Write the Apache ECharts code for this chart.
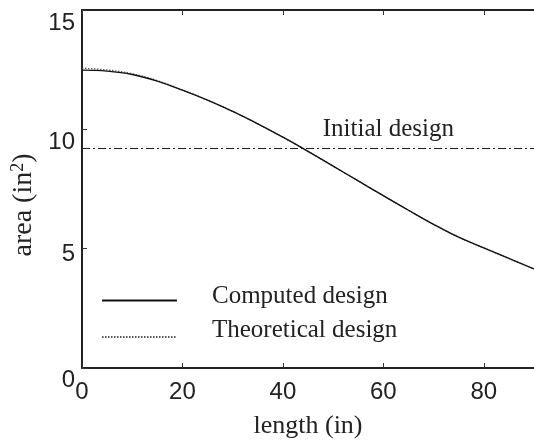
<!DOCTYPE html>
<html>
<head>
<meta charset="utf-8">
<script src="https://cdn.jsdelivr.net/npm/echarts@6/dist/echarts.min.js"></script>
<style>html,body{margin:0;padding:0;background:#fff}#c{width:534px;height:445px}</style>
</head>
<body>
<div id="c"></div>
<script>
const lengths = [0, 5, 10, 15, 20, 25, 30, 35, 40, 45, 50, 55, 60, 65, 70, 75, 80, 85, 90];
const computedArea = [12.48, 12.44, 12.30, 12.02, 11.64, 11.22, 10.75, 10.23, 9.67, 9.08, 8.46, 7.84, 7.22, 6.61, 6.02, 5.48, 5.03, 4.59, 4.15];
const theoreticalArea = [12.56, 12.49, 12.33, 12.04, 11.65, 11.22, 10.75, 10.23, 9.67, 9.08, 8.46, 7.84, 7.22, 6.61, 6.02, 5.48, 5.03, 4.59, 4.15];
const initialX = [0, 90];
const initialArea = [9.2, 9.2];
const xTicks = [0, 20, 40, 60, 80];
const yTicks = [0, 5, 10, 15];
const seriesNames = ['Computed design', 'Theoretical design'];
const initialLabel = 'Initial design';

const pair = (xs, ys) => xs.map((x, i) => [x, ys[i]]);
const chart = echarts.init(document.getElementById('c'));
const sans = 'Liberation Sans';
const serif = 'Liberation Serif';
const axisLine = { show: true, lineStyle: { color: '#222', width: 2 } };
const tick = { show: true, inside: true, length: 5, lineStyle: { color: '#333', width: 1 } };
const yLabelShift = { 0: 25, 5: 11, 10: 27, 15: 26 };

function legendFor(name, top, lift) {
  return {
    orient: 'vertical', left: 101, top: top, padding: 0,
    itemWidth: 75, itemHeight: 14,
    itemStyle: { opacity: 0 },
    data: [name],
    formatter: n => '{t|' + n + '}',
    textStyle: { fontFamily: serif, fontSize: 25, color: '#222', padding: [0, 0, 0, 30],
      rich: { t: { fontFamily: serif, fontSize: 25, color: '#222', padding: [0, 0, lift, 0] } } }
  };
}

chart.setOption({
  animation: false,
  backgroundColor: '#fff',
  grid: { left: 82, top: 10, width: 453, height: 358, containLabel: false },
  legend: [legendFor(seriesNames[0], 284, 8), legendFor(seriesNames[1], 318, 13)],
  xAxis: [{
    type: 'value', min: 0, max: 90, interval: 20, position: 'bottom',
    axisLine, axisTick: tick,
    axisLabel: { fontFamily: sans, fontSize: 24, color: '#222', margin: 12,
      customValues: xTicks, formatter: v => String(v) },
    splitLine: { show: false },
    name: 'length (in)', nameLocation: 'middle', nameGap: 45,
    nameTextStyle: { fontFamily: serif, fontSize: 26, color: '#222' }
  }, {
    type: 'value', min: 0, max: 90, interval: 20, position: 'top',
    axisLine, axisTick: tick,
    axisLabel: { show: false }, splitLine: { show: false }
  }],
  yAxis: {
    type: 'value', min: 0, max: 15, interval: 5,
    axisLine, axisTick: tick,
    axisLabel: { fontFamily: sans, fontSize: 24, color: '#222', margin: 7, verticalAlign: 'middle',
      customValues: yTicks, formatter: v => '{s' + v + '|' + v + '}',
      rich: Object.fromEntries(yTicks.map(v => ['s' + v,
        { fontFamily: sans, fontSize: 24, color: '#222', padding: [yLabelShift[v], 0, 0, 0] }])) },
    splitLine: { show: false },
    name: 'area (in{sup|2})', nameLocation: 'middle', nameGap: 30, nameRotate: 90,
    nameTextStyle: { fontFamily: serif, fontSize: 28, color: '#222', padding: [0, 32, 0, 0],
      rich: { sup: { fontFamily: serif, fontSize: 18, color: '#222', verticalAlign: 'top', padding: [0, 0, 11, 0] } } }
  },
  series: [
    {
      name: seriesNames[1], type: 'line', data: pair(lengths, theoreticalArea),
      symbol: 'none', smooth: 0.4, z: 2,
      lineStyle: { color: '#555', width: 1.2, type: [1.5, 1.5] }
    },
    {
      name: seriesNames[0], type: 'line', data: pair(lengths, computedArea),
      symbol: 'none', smooth: 0.4, z: 3,
      lineStyle: { color: '#111', width: 1.4, type: 'solid' }
    },
    {
      name: initialLabel, type: 'line', data: pair(initialX, initialArea),
      symbol: 'none', z: 1,
      lineStyle: { color: '#222', width: 1.1, type: [8, 3, 2, 3] },
      markPoint: {
        symbol: 'circle', symbolSize: 0,
        data: [{ coord: [61, 9.2] }],
        label: { show: true, formatter: initialLabel, position: 'top', distance: 6,
          fontFamily: serif, fontSize: 25, color: '#222' }
      }
    }
  ]
});
</script>
</body>
</html>
